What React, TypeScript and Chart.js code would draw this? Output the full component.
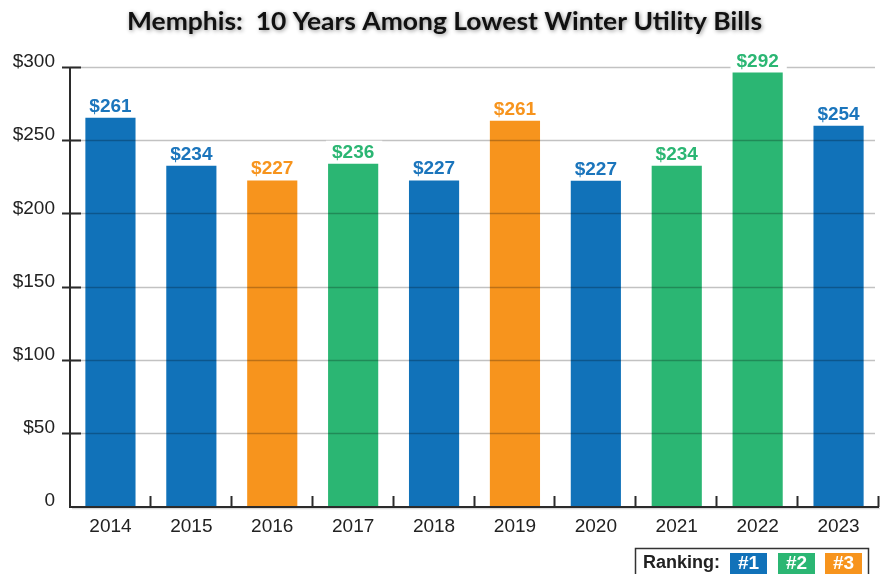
import React, { useEffect, useRef } from 'react';
import { Chart, registerables } from 'chart.js';

Chart.register(...registerables);

// ---------- data ----------
const years = ['2014', '2015', '2016', '2017', '2018', '2019', '2020', '2021', '2022', '2023'];
// bar heights as drawn in the picture (in dollars)
const barHeights = [265.4, 232.6, 222.5, 233.9, 222.5, 263.3, 222.3, 232.6, 296.2, 259.9];
// value labels printed above the bars
const billLabels = ['$261', '$234', '$227', '$236', '$227', '$261', '$227', '$234', '$292', '$254'];
// ranking of each year (1, 2 or 3)
const rankings = [1, 1, 3, 2, 1, 3, 1, 2, 2, 1];
const rankColors: Record<number, string> = { 1: '#1172b9', 2: '#2bb673', 3: '#f7941d' };
const labelColors: Record<number, string> = { 1: '#1b75bc', 2: '#2bb673', 3: '#f7941d' };
const yMin = 0;
const yMax = 300;
const yStep = 50;
const titleText = 'Memphis:  10 Years Among Lowest Winter Utility Bills';
const legendTitle = 'Ranking:';
const legendRanks = [1, 2, 3];
const legendLabels = ['#1', '#2', '#3'];

const AXIS_FONT = '"Liberation Sans", Arial, sans-serif';

const drawPlugin = {
  id: 'customDraw',
  beforeDraw(chart: any) {
    const ctx = chart.ctx;
    ctx.save();
    ctx.fillStyle = '#ffffff';
    ctx.fillRect(0, 0, chart.width, chart.height);
    ctx.restore();
  },
  afterDatasetsDraw(chart: any) {
    const ctx = chart.ctx;
    const area = chart.chartArea;
    const yScale = chart.scales.y;
    const xScale = chart.scales.x;
    ctx.save();
    // gridlines over bars
    ctx.strokeStyle = 'rgba(0,0,0,0.24)';
    ctx.lineWidth = 1.6;
    for (let v = yMin + yStep; v <= yMax; v += yStep) {
      const y = Math.round(yScale.getPixelForValue(v)) + 0.5;
      ctx.beginPath();
      ctx.moveTo(area.left, y);
      ctx.lineTo(area.right - 4, y);
      ctx.stroke();
    }
    // x axis shadow
    ctx.strokeStyle = 'rgba(0,0,0,0.15)';
    ctx.lineWidth = 1.5;
    ctx.beginPath();
    ctx.moveTo(area.left + 2, area.bottom + 2.5);
    ctx.lineTo(area.right + 1, area.bottom + 2.5);
    ctx.stroke();
    // axes
    ctx.strokeStyle = '#2b2b2b';
    ctx.lineWidth = 2;
    const top = yScale.getPixelForValue(yMax);
    ctx.beginPath();
    ctx.moveTo(area.left, top);
    ctx.lineTo(area.left, area.bottom + 1);
    ctx.lineTo(area.right, area.bottom + 1);
    ctx.stroke();
    // y tick marks crossing axis
    for (let v = yMin + yStep; v <= yMax; v += yStep) {
      const y = Math.round(yScale.getPixelForValue(v)) + 0.5;
      ctx.beginPath();
      ctx.moveTo(area.left - 8, y);
      ctx.lineTo(area.left + 11, y);
      ctx.stroke();
    }
    // x category boundary ticks
    const n = years.length;
    for (let i = 1; i <= n; i++) {
      const x = Math.round(xScale.left + (xScale.width * i) / n) - 0.5;
      ctx.beginPath();
      ctx.moveTo(x, area.bottom - 10);
      ctx.lineTo(x, area.bottom + 1);
      ctx.stroke();
    }
    // value labels
    const meta = chart.getDatasetMeta(0);
    ctx.font = 'bold 19px ' + AXIS_FONT;
    ctx.textAlign = 'center';
    ctx.textBaseline = 'alphabetic';
    meta.data.forEach((bar: any, i: number) => {
      const text = billLabels[i];
      const w = ctx.measureText(text).width;
      const base = bar.y - 6;
      ctx.fillStyle = '#ffffff';
      ctx.fillRect(bar.x - w / 2 - 6, base - 17, w + 14, 20);
      ctx.fillStyle = labelColors[rankings[i]];
      ctx.fillText(text, bar.x, base);
    });
    ctx.restore();
  },
  afterDraw(chart: any) {
    const ctx = chart.ctx;
    ctx.save();
    // title with soft shadow
    ctx.font = 'bold 24px Lato, "Open Sans", sans-serif';
    const tw = ctx.measureText(titleText).width;
    const targetW = 635;
    const sx = targetW / tw;
    ctx.translate(444.5, 30);
    ctx.scale(sx, 1);
    ctx.textAlign = 'center';
    ctx.textBaseline = 'alphabetic';
    ctx.shadowColor = 'rgba(0,0,0,0.45)';
    ctx.shadowBlur = 4;
    ctx.shadowOffsetX = 1;
    ctx.shadowOffsetY = 1;
    ctx.fillStyle = '#111111';
    ctx.fillText(titleText, 0, 0);
    ctx.restore();

    // legend box
    ctx.save();
    ctx.strokeStyle = '#333333';
    ctx.lineWidth = 1.5;
    ctx.strokeRect(635.5, 548.5, 233, 40);
    ctx.font = 'bold 18px ' + AXIS_FONT;
    ctx.fillStyle = '#222222';
    ctx.textAlign = 'left';
    ctx.textBaseline = 'alphabetic';
    ctx.fillText(legendTitle, 643, 568);
    const swX = [730, 778, 825];
    ctx.font = 'bold 19px ' + AXIS_FONT;
    legendRanks.forEach((r, i) => {
      ctx.fillStyle = rankColors[r];
      ctx.fillRect(swX[i], 553, 37, 30);
      ctx.fillStyle = '#ffffff';
      ctx.textAlign = 'center';
      ctx.fillText(legendLabels[i], swX[i] + 18.5, 569);
    });
    ctx.restore();
  },
};

export default function App() {
  const canvasRef = useRef<HTMLCanvasElement | null>(null);

  useEffect(() => {
    if (!canvasRef.current) return;
    const chart = new Chart(canvasRef.current, {
      type: 'bar',
      data: {
        labels: years,
        datasets: [
          {
            data: barHeights,
            backgroundColor: rankings.map((r) => rankColors[r]),
            borderWidth: 0,
            barPercentage: 0.62,
            categoryPercentage: 1,
          },
        ],
      },
      options: {
        responsive: false,
        animation: false,
        events: [],
        layout: { padding: { top: 67, right: 9, left: 0, bottom: 0 } },
        plugins: {
          legend: { display: false },
          tooltip: { enabled: false },
          title: { display: false },
        },
        scales: {
          x: {
            grid: { display: false, drawTicks: false },
            border: { display: false },
            ticks: {
              color: '#222222',
              font: { family: AXIS_FONT, size: 19 },
              padding: 9,
              maxRotation: 0,
            },
            afterFit: (s: any) => {
              s.height = 68;
            },
          },
          y: {
            min: yMin,
            max: yMax,
            grid: { display: false, drawTicks: false },
            border: { display: false },
            ticks: {
              stepSize: yStep,
              color: '#222222',
              font: { family: AXIS_FONT, size: 19 },
              padding: 15,
              labelOffset: -5,
              callback: (v: any) => (Number(v) === 0 ? '0' : '$' + v),
            },
            afterFit: (s: any) => {
              s.width = 70;
            },
          },
        },
      },
      plugins: [drawPlugin],
    });
    return () => chart.destroy();
  }, []);

  return (
    <div style={{ position: 'fixed', left: 0, top: 0, width: 888, height: 574, background: '#fff' }}>
      <canvas ref={canvasRef} width={888} height={574} style={{ width: 888, height: 574, display: 'block' }} />
    </div>
  );
}
